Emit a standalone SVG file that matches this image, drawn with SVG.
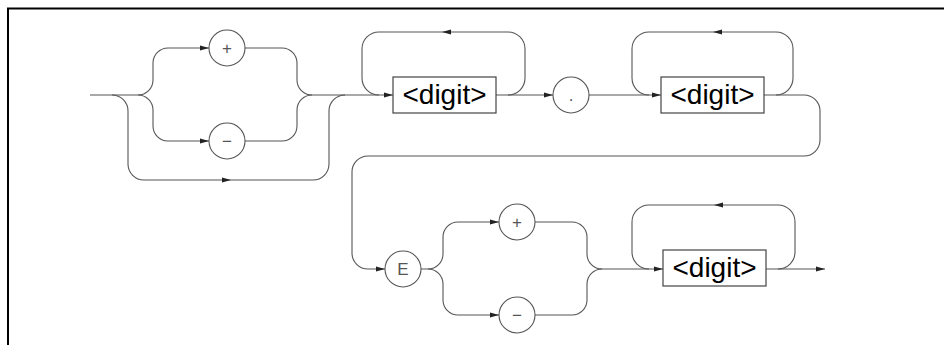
<svg xmlns="http://www.w3.org/2000/svg" xmlns:xlink="http://www.w3.org/1999/xlink" width="944" height="345" viewBox="0 0 944 345">
<style>
.frame{fill:none;stroke:#000;stroke-width:2}
.c{fill:none;stroke:#555;stroke-width:1.1}
.term{fill:#fff;stroke:#555;stroke-width:1.1}
.box{fill:#fff;stroke:#444;stroke-width:1.2}
.tl{font-family:"Liberation Sans",Arial,sans-serif;font-size:17px;fill:#555;text-anchor:middle}
.bl{font-family:"Liberation Sans",Arial,sans-serif;font-size:28px;fill:#000;text-anchor:middle}
.ah{fill:#222}
</style>
<defs>
<path id="ar" class="ah" d="M0,0 L-9,-2.6 L-9,2.6 Z"/>
<path id="al" class="ah" d="M0,0 L9,-2.6 L9,2.6 Z"/>
</defs>
<rect width="944" height="345" fill="#fff"/>
<path class="frame" d="M8,346 V8.5 H945"/>
<g id="connectors">
<path class="c" d="M90,95 H138"/>
<path class="c" d="M312,95 H393"/>
<path class="c" d="M138,95 A15,15 0 0 0 153,80 V63 A15,15 0 0 1 168,48 H209"/>
<path class="c" d="M138,95 A15,15 0 0 1 153,110 V126 A15,15 0 0 0 168,141 H209"/>
<path class="c" d="M245,48 H282 A15,15 0 0 1 297,63 V80 A15,15 0 0 0 312,95"/>
<path class="c" d="M245,141 H282 A15,15 0 0 0 297,126 V110 A15,15 0 0 1 312,95"/>
<path class="c" d="M112,95 A16,16 0 0 1 128,111 V164 A16,16 0 0 0 144,180 H313 A16,16 0 0 0 329,164 V111 A16,16 0 0 1 345,95"/>
<path class="c" d="M496,95 H553"/>
<path class="c" d="M508,95 A17,17 0 0 0 525,78 V49 A17,17 0 0 0 508,32 H379 A17,17 0 0 0 362,49 V78 A17,17 0 0 0 379,95"/>
<path class="c" d="M589,95 H661"/>
<path class="c" d="M764,95 H804 A16,16 0 0 1 820,111 V140 A16,16 0 0 1 804,156 H368 A16,16 0 0 0 352,172 V253 A16,16 0 0 0 368,269 H385"/>
<path class="c" d="M776,95 A17,17 0 0 0 793,78 V49 A17,17 0 0 0 776,32 H649 A17,17 0 0 0 632,49 V78 A17,17 0 0 0 649,95"/>
<path class="c" d="M421,269 H428 A15,15 0 0 0 443,254 V237 A15,15 0 0 1 458,222 H499"/>
<path class="c" d="M428,269 A15,15 0 0 1 443,284 V300 A15,15 0 0 0 458,315 H499"/>
<path class="c" d="M535,222 H572 A15,15 0 0 1 587,237 V254 A15,15 0 0 0 602,269"/>
<path class="c" d="M535,315 H572 A15,15 0 0 0 587,300 V284 A15,15 0 0 1 602,269"/>
<path class="c" d="M602,269 H663"/>
<path class="c" d="M766,269 H825"/>
<path class="c" d="M778,269 A17,17 0 0 0 795,252 V222 A17,17 0 0 0 778,205 H649 A17,17 0 0 0 632,222 V252 A17,17 0 0 0 649,269"/>
<use xlink:href="#ar" transform="translate(209,48)"/>
<use xlink:href="#ar" transform="translate(209,141)"/>
<use xlink:href="#ar" transform="translate(231,180)"/>
<use xlink:href="#ar" transform="translate(393,95)"/>
<use xlink:href="#al" transform="translate(442,32)"/>
<use xlink:href="#ar" transform="translate(553,95)"/>
<use xlink:href="#ar" transform="translate(661,95)"/>
<use xlink:href="#al" transform="translate(713,32)"/>
<use xlink:href="#ar" transform="translate(385,269)"/>
<use xlink:href="#ar" transform="translate(499,222)"/>
<use xlink:href="#ar" transform="translate(499,315)"/>
<use xlink:href="#ar" transform="translate(663,269)"/>
<use xlink:href="#al" transform="translate(714,205)"/>
<use xlink:href="#ar" transform="translate(825,269)"/>
</g>
<g id="plus1"><circle class="term" cx="227" cy="48" r="18"/><text class="tl" x="227" y="54">+</text></g>
<g id="minus1"><circle class="term" cx="227" cy="141" r="18"/><text class="tl" x="227" y="147">−</text></g>
<g id="digit1"><rect class="box" x="393" y="77" width="103" height="36"/><text class="bl" x="444.5" y="103.5">&lt;digit&gt;</text></g>
<g id="dot"><circle class="term" cx="571" cy="95" r="18"/><text class="tl" x="571" y="101">.</text></g>
<g id="digit2"><rect class="box" x="661" y="77" width="103" height="36"/><text class="bl" x="712.5" y="103.5">&lt;digit&gt;</text></g>
<g id="E"><circle class="term" cx="403" cy="269" r="18"/><text class="tl" x="403" y="275">E</text></g>
<g id="plus2"><circle class="term" cx="517" cy="222" r="18"/><text class="tl" x="517" y="228">+</text></g>
<g id="minus2"><circle class="term" cx="517" cy="315" r="18"/><text class="tl" x="517" y="321">−</text></g>
<g id="digit3"><rect class="box" x="663" y="250" width="103" height="36"/><text class="bl" x="714.5" y="276.5">&lt;digit&gt;</text></g>
</svg>
